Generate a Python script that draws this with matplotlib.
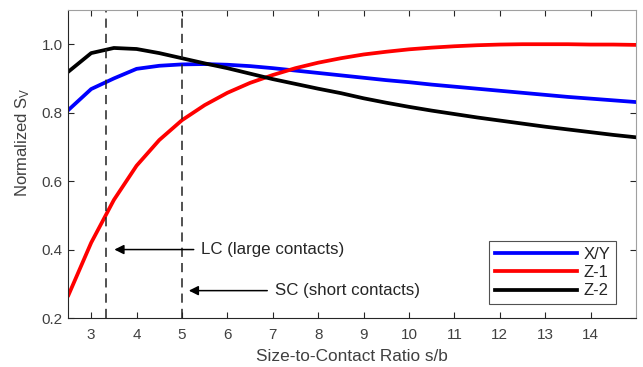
import matplotlib
matplotlib.use('Agg')
import matplotlib.pyplot as plt

plt.rcParams['font.family'] = ['Liberation Sans', 'DejaVu Sans']
plt.rcParams['mathtext.default'] = 'regular'

ratio = [2.5, 3.0, 3.5, 4.0, 4.5, 5.0, 5.5, 6.0, 6.5, 7.0, 7.5, 8.0, 8.5,
         9.0, 9.5, 10.0, 10.5, 11.0, 11.5, 12.0, 12.5, 13.0, 13.5, 14.0, 14.5, 15.0]
sv_xy = [0.808, 0.869, 0.900, 0.928, 0.937, 0.941, 0.942, 0.940, 0.936, 0.930,
         0.923, 0.916, 0.909, 0.902, 0.895, 0.889, 0.882, 0.876, 0.870, 0.864,
         0.858, 0.852, 0.846, 0.841, 0.836, 0.831]
sv_z1 = [0.267, 0.420, 0.545, 0.645, 0.720, 0.778, 0.822, 0.858, 0.887, 0.910,
         0.930, 0.946, 0.959, 0.970, 0.978, 0.985, 0.990, 0.994, 0.997, 0.999,
         1.000, 1.000, 1.000, 0.999, 0.999, 0.998]
sv_z2 = [0.920, 0.974, 0.989, 0.986, 0.974, 0.959, 0.944, 0.930, 0.914, 0.898,
         0.884, 0.870, 0.857, 0.842, 0.829, 0.817, 0.806, 0.796, 0.786, 0.777,
         0.768, 0.759, 0.751, 0.743, 0.735, 0.728]

lc_ratio = 3.33
sc_ratio = 5.0

fig = plt.figure(figsize=(6.43, 3.67), dpi=100)
ax = fig.add_axes([0.1065, 0.1335, 0.8825, 0.8393])

ax.plot(ratio, sv_xy, color='#0000ff', lw=2.7, label='X/Y')
ax.plot(ratio, sv_z1, color='#ff0000', lw=2.7, label='Z-1')
ax.plot(ratio, sv_z2, color='black', lw=2.7, label='Z-2')

ax.axvline(lc_ratio, color='#222222', lw=1.1, ls=(0, (6, 4)))
ax.axvline(sc_ratio, color='#222222', lw=1.1, ls=(0, (6, 4)))

arrow = dict(arrowstyle='-|>', color='black', lw=1.1, mutation_scale=14)
ax.annotate('', xy=(3.45, 0.40), xytext=(5.32, 0.40), arrowprops=arrow)
ax.text(5.42, 0.40, 'LC (large contacts)', fontsize=12.2, color='#262626', va='center')
ax.annotate('', xy=(5.09, 0.28), xytext=(6.94, 0.28), arrowprops=arrow)
ax.text(7.05, 0.28, 'SC (short contacts)', fontsize=12.2, color='#262626', va='center')

ax.set_xlim(2.5, 15)
ax.set_ylim(0.2, 1.1)
ax.set_xticks(range(3, 15))
ax.set_yticks([0.2, 0.4, 0.6, 0.8, 1.0])
ax.set_yticklabels(['0.2', '0.4', '0.6', '0.8', '1.0'])
ax.tick_params(direction='in', top=True, right=True, length=4, width=0.8,
               labelsize=11, colors='#262626', labelcolor='#404040')
ax.tick_params(axis='x', pad=7)
ax.tick_params(axis='y', pad=4)
for s in ax.spines.values():
    s.set_color('#262626')
    s.set_linewidth(0.8)
ax.spines['right'].set_color('#a0a0a0')
ax.spines['top'].set_color('#a0a0a0')

ax.set_xlabel('Size-to-Contact Ratio s/b', fontsize=12.4, color='#404040', labelpad=5)
ax.set_ylabel('Normalized S$_V$', fontsize=12, color='#404040')
ax.yaxis.set_label_coords(-0.064, 0.57)

leg = ax.legend(loc='lower right', bbox_to_anchor=(0.965, 0.0445), fontsize=12,
                handlelength=4.9, frameon=True, fancybox=False, borderpad=0.35,
                labelspacing=0.2, handletextpad=0.4, borderaxespad=0)
leg.get_frame().set_edgecolor('#262626')
leg.get_frame().set_linewidth(0.8)
for t in leg.get_texts():
    t.set_color('#262626')

fig.savefig('out.png', dpi=100)
